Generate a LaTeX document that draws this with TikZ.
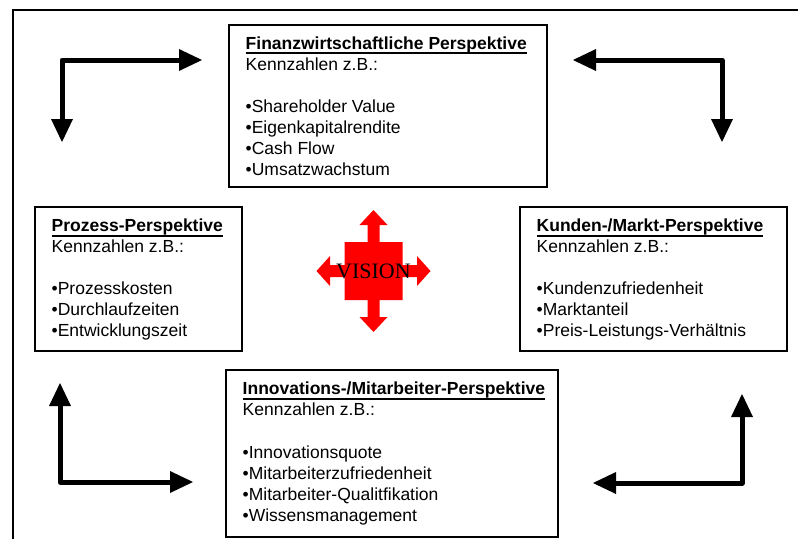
\documentclass[tikz,border=0pt]{standalone}
\usepackage{fontspec}
\setmainfont{Liberation Sans}
\newfontfamily\visionfont{Liberation Serif}
\usetikzlibrary{arrows.meta}
% bold heading with a heavy underline below the descenders
\newcommand\headline[1]{\setbox0\hbox{\bfseries #1}\rlap{\rule[-4.8pt]{\wd0}{1.8pt}}\box0}

\begin{document}
\begin{tikzpicture}[x=1pt,y=-1pt,
  panel/.style={draw, line width=1.8pt, outer sep=0pt, inner sep=0pt},
  paneltext/.style={anchor=north west, inner sep=0pt, align=left,
    font=\fontsize{17.5pt}{21pt}\selectfont},
  loop/.style={line width=5pt, line join=round, {Triangle[length=23pt,width=22pt,line width=0pt]}-{Triangle[length=23pt,width=22pt,line width=0pt]}},
  frame/.style={line width=2pt}]
\useasboundingbox (0,0) rectangle (798,539);

% open frame (left and top edges)
\draw[frame] (13,539) -- (13,10) -- (798,10);

% the four perspectives
\node[panel, minimum width=318pt, minimum height=162pt] (fin) at (388,106) {};
\node[panel, minimum width=207pt, minimum height=144pt] (proz) at (138.5,279) {};
\node[panel, minimum width=267pt, minimum height=144pt] (kund) at (653.5,279) {};
\node[panel, minimum width=332pt, minimum height=167pt] (inno) at (392,453.5) {};

\node[paneltext] (fintxt) at ([shift={(16.5,11.5)}]fin.north west)
  {\headline{Finanzwirtschaftliche Perspektive}\\ Kennzahlen z.B.:\\[21pt]
   •Shareholder Value\\ •Eigenkapitalrendite\\ •Cash Flow\\ •Umsatzwachstum};
\node[paneltext] (prozt) at ([shift={(16.5,12)}]proz.north west)
  {\headline{Prozess-Perspektive}\\ Kennzahlen z.B.:\\[21pt]
   •Prozesskosten\\ •Durchlaufzeiten\\ •Entwicklungszeit};
\node[paneltext] (kundt) at ([shift={(16.5,12)}]kund.north west)
  {\headline{Kunden-/Markt-Perspektive}\\ Kennzahlen z.B.:\\[21pt]
   •Kundenzufriedenheit\\ •Marktanteil\\ •Preis-Leistungs-Verhältnis};
\node[paneltext] (innot) at ([shift={(16.5,12)}]inno.north west)
  {\headline{Innovations-/Mitarbeiter-Perspektive}\\ Kennzahlen z.B.:\\[22pt]
   •Innovationsquote\\ •Mitarbeiterzufriedenheit\\ •Mitarbeiter-Qualitfikation\\ •Wissensmanagement};

% cycle arrows in the corners
\coordinate (tla) at (62,142); \coordinate (tlc) at (62,60); \coordinate (tlb) at (202,60);
\coordinate (tra) at (573,60); \coordinate (trc) at (722,60); \coordinate (trb) at (722,142);
\coordinate (bla) at (60,383); \coordinate (blc) at (60,482); \coordinate (blb) at (193,482);
\coordinate (bra) at (593,483); \coordinate (brc) at (742,483); \coordinate (brb) at (742,394);
\draw[loop] (tla) -- (tlc) -- (tlb);
\draw[loop] (tra) -- (trc) -- (trb);
\draw[loop] (bla) -- (blc) -- (blb);
\draw[loop] (bra) -- (brc) -- (brb);

% red four-way star in the middle
\begin{scope}[shift={(373.5,271)}]
\fill[red] (0,-61) -- (14,-46) -- (6,-46) -- (6,-29) -- (29,-29) -- (29,-6)
  -- (43.5,-6) -- (43.5,-15) -- (57,0) -- (43.5,15) -- (43.5,6) -- (29,6)
  -- (29,29) -- (6,29) -- (6,46) -- (14,46) -- (0,61) -- (-14,46) -- (-6,46)
  -- (-6,29) -- (-29,29) -- (-29,6) -- (-43.5,6) -- (-43.5,15) -- (-57,0)
  -- (-43.5,-15) -- (-43.5,-6) -- (-29,-6) -- (-29,-29) -- (-6,-29)
  -- (-6,-46) -- (-14,-46) -- cycle;
\end{scope}
\node[inner sep=0pt, font=\visionfont\fontsize{22pt}{22pt}\selectfont] (vis) at (373.5,271) {VISION};
\end{tikzpicture}
\end{document}
